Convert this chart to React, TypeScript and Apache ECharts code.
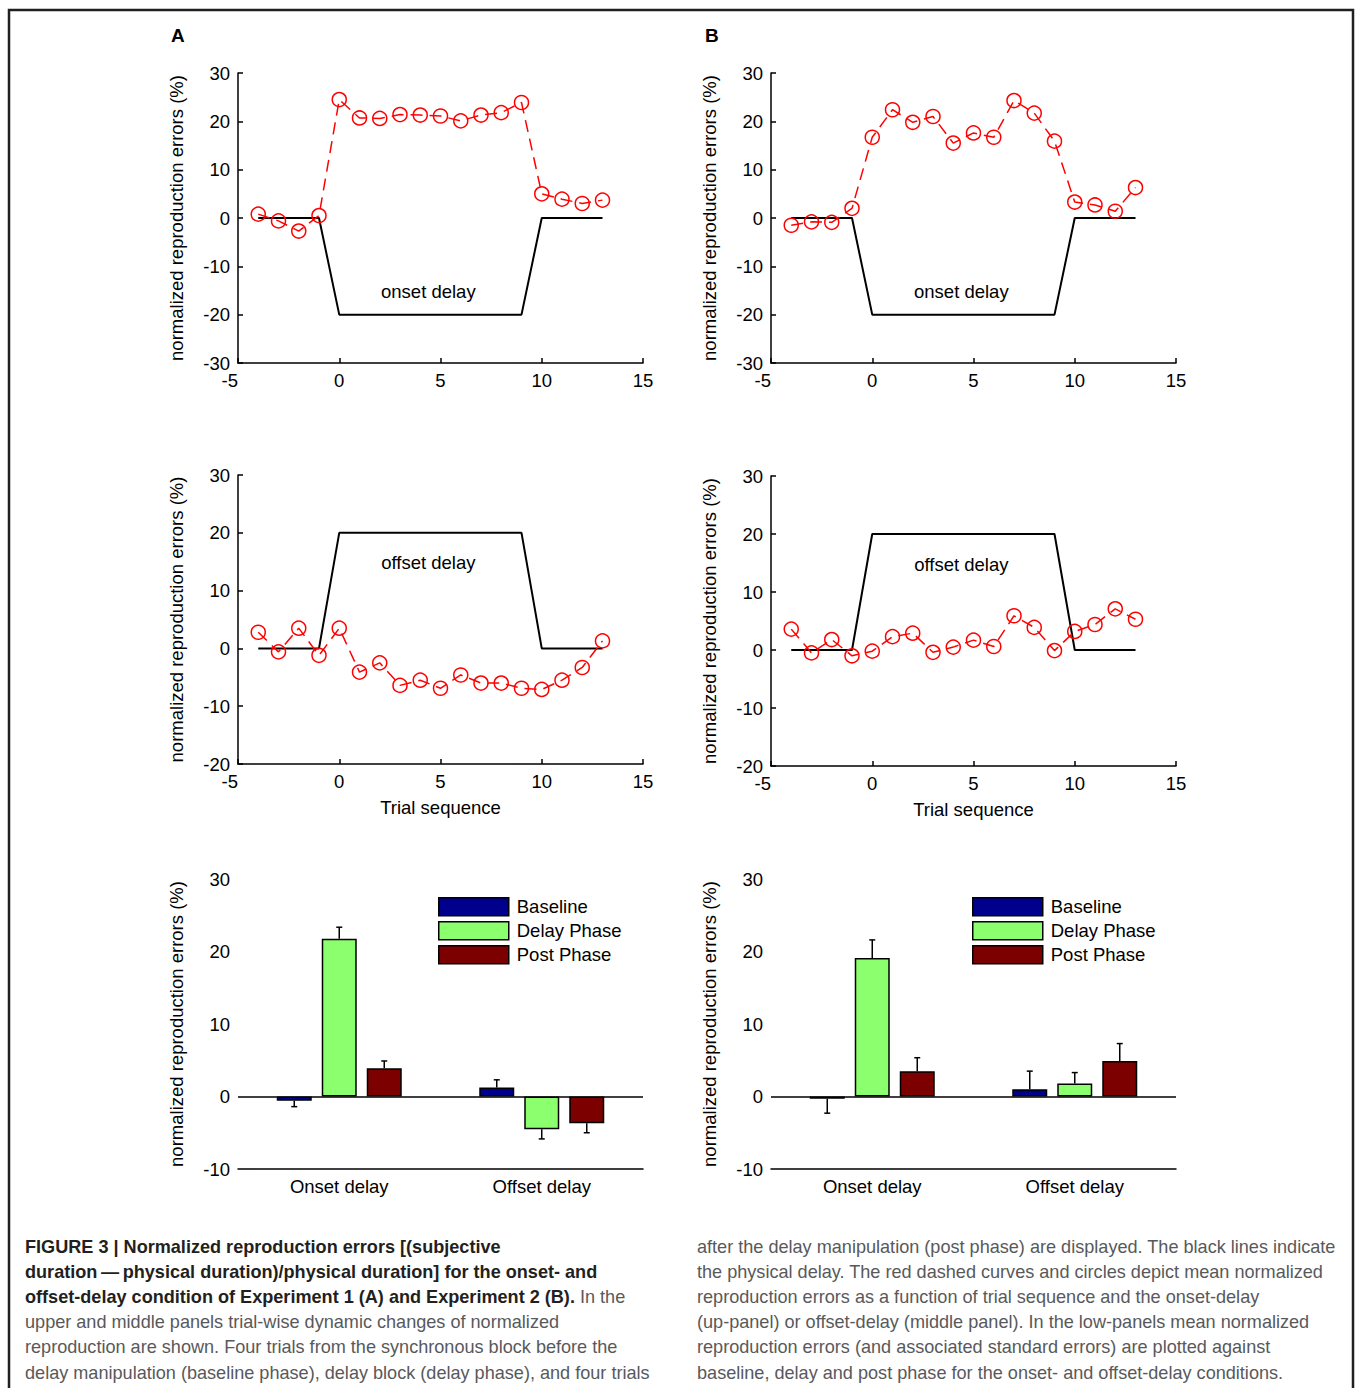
import React, { useEffect, useRef } from "react";
import * as echarts from "echarts";

// ---------- data ----------
const trials = [-4, -3, -2, -1, 0, 1, 2, 3, 4, 5, 6, 7, 8, 9, 10, 11, 12, 13];
const delayX = [-4, -1, 0, 9, 10, 13];
const onsetDelayY = [0, 0, -20, -20, 0, 0];
const offsetDelayY = [0, 0, 20, 20, 0, 0];

const exp1Onset = [0.8, -0.6, -2.7, 0.5, 24.5, 20.7, 20.6, 21.4, 21.3, 21.1, 20.1, 21.3, 21.8, 23.9, 5.0, 3.9, 3.0, 3.7];
const exp2Onset = [-1.5, -0.8, -0.9, 2.0, 16.7, 22.4, 19.8, 21.0, 15.5, 17.6, 16.7, 24.3, 21.7, 15.9, 3.3, 2.7, 1.4, 6.3];
const exp1Offset = [2.8, -0.6, 3.5, -1.2, 3.5, -4.1, -2.5, -6.4, -5.5, -6.9, -4.6, -6.0, -6.0, -6.9, -7.1, -5.5, -3.3, 1.3];
const exp2Offset = [3.6, -0.5, 1.8, -1.0, -0.2, 2.3, 2.9, -0.4, 0.5, 1.7, 0.6, 5.9, 3.9, -0.1, 3.2, 4.4, 7.1, 5.3];

const conditions = ["Onset delay", "Offset delay"];
const phases = ["Baseline", "Delay Phase", "Post Phase"];
const phaseColors = ["#00008c", "#8cff6e", "#7c0000"];

const exp1Baseline = [-0.6, 1.25];
const exp1Delay = [21.75, -4.5];
const exp1Post = [3.9, -3.7];
const exp1BaselineSE = [0.8, 1.05];
const exp1DelaySE = [1.6, 1.35];
const exp1PostSE = [1.0, 1.3];

const exp2Baseline = [-0.3, 1.0];
const exp2Delay = [19.1, 1.8];
const exp2Post = [3.5, 4.9];
const exp2BaselineSE = [2.0, 2.5];
const exp2DelaySE = [2.5, 1.5];
const exp2PostSE = [1.85, 2.4];

const xTicks = { min: -5, max: 15, interval: 5 };
const yTop = { min: -30, max: 30, interval: 10 };
const yMid = { min: -20, max: 30, interval: 10 };
const yBar = { min: -10, max: 30, interval: 10 };

const yName = "normalized reproduction errors (%)";
const xName = "Trial sequence";

const captionLeft = [
  "{b|FIGURE 3 | Normalized reproduction errors [(subjective}",
  "{b|duration\u2009\u2014\u2009physical duration)/physical duration] for the onset- and}",
  "{b|offset-delay condition of Experiment 1 (A) and Experiment 2 (B).}{n| In the}",
  "{n|upper and middle panels trial-wise dynamic changes of normalized}",
  "{n|reproduction are shown. Four trials from the synchronous block before the}",
  "{n|delay manipulation (baseline phase), delay block (delay phase), and four trials}",
];
const captionRight = [
  "after the delay manipulation (post phase) are displayed. The black lines indicate",
  "the physical delay. The red dashed curves and circles depict mean normalized",
  "reproduction errors as a function of trial sequence and the onset-delay",
  "(up-panel) or offset-delay (middle panel). In the low-panels mean normalized",
  "reproduction errors (and associated standard errors) are plotted against",
  "baseline, delay and post phase for the onset- and offset-delay conditions.",
];

// ---------- styling ----------
const FONT = '"Liberation Sans", Arial, Helvetica, sans-serif';
const FS = 18.5;
const BAR_W = 35;
const BAR_STEP = 45;

const axisCommon = {
  axisLine: { onZero: false, lineStyle: { color: "#000", width: 1.5 } },
  axisTick: { inside: true, length: 5, lineStyle: { color: "#000", width: 1.5 } },
  axisLabel: { color: "#000", fontSize: FS, fontFamily: FONT, margin: 8 },
  splitLine: { show: false },
};

function makeOption() {
  const grid = [
    { left: 238, top: 73, width: 405, height: 290 },
    { left: 771, top: 73, width: 405, height: 290 },
    { left: 238, top: 475, width: 405, height: 289 },
    { left: 771, top: 476, width: 405, height: 290 },
    { left: 238, top: 879, width: 405, height: 290 },
    { left: 771, top: 879, width: 405, height: 290 },
  ];

  const xAxis: any[] = [];
  const yAxis: any[] = [];
  for (let i = 0; i < 4; i++) {
    xAxis.push({
      type: "value",
      gridIndex: i,
      ...xTicks,
      ...axisCommon,
      axisLabel: { ...axisCommon.axisLabel, alignMinLabel: "right" },
      name: i >= 2 ? xName : "",
      nameLocation: "middle",
      nameGap: 34,
      nameTextStyle: { color: "#000", fontSize: FS, fontFamily: FONT },
    });
    const yr = i < 2 ? yTop : yMid;
    yAxis.push({
      type: "value",
      gridIndex: i,
      ...yr,
      ...axisCommon,
      name: yName,
      nameLocation: "middle",
      nameGap: 52,
      nameTextStyle: { color: "#000", fontSize: FS, fontFamily: FONT },
    });
  }
  for (let i = 4; i < 6; i++) {
    xAxis.push({
      type: "category",
      gridIndex: i,
      data: conditions,
      ...axisCommon,
      axisTick: { show: false },
    });
    yAxis.push({
      type: "value",
      gridIndex: i,
      ...yBar,
      ...axisCommon,
      name: yName,
      nameLocation: "middle",
      nameGap: 52,
      nameTextStyle: { color: "#000", fontSize: FS, fontFamily: FONT },
    });
  }

  const series: any[] = [];

  const delayLine = (idx: number, ys: number[], label: string, coord: number[]) => ({
    type: "line",
    xAxisIndex: idx,
    yAxisIndex: idx,
    data: delayX.map((x, k) => [x, ys[k]]),
    symbol: "none",
    silent: true,
    lineStyle: { color: "#000", width: 2 },
    z: 2,
    markPoint: {
      silent: true,
      symbol: "circle",
      symbolSize: 1,
      itemStyle: { color: "rgba(0,0,0,0)" },
      label: {
        show: true,
        position: "inside",
        formatter: label,
        color: "#000",
        fontSize: FS,
        fontFamily: FONT,
      },
      data: [{ coord }],
    },
  });

  const redLine = (idx: number, ys: number[]) => ({
    type: "line",
    xAxisIndex: idx,
    yAxisIndex: idx,
    data: trials.map((t, k) => [t, ys[k]]),
    symbol: "circle",
    symbolSize: 14,
    silent: true,
    itemStyle: { color: "rgba(255,255,255,0)", borderColor: "#ff0000", borderWidth: 1.5 },
    lineStyle: { color: "#ff0000", width: 1.5, type: [12, 7] },
    z: 3,
  });

  series.push(delayLine(0, onsetDelayY, "onset delay", [4.4, -15.2]));
  series.push(redLine(0, exp1Onset));
  series.push(delayLine(1, onsetDelayY, "onset delay", [4.4, -15.2]));
  series.push(redLine(1, exp2Onset));
  series.push(delayLine(2, offsetDelayY, "offset delay", [4.4, 14.8]));
  series.push(redLine(2, exp1Offset));
  series.push(delayLine(3, offsetDelayY, "offset delay", [4.4, 14.8]));
  series.push(redLine(3, exp2Offset));

  const barPanels = [
    { idx: 4, means: [exp1Baseline, exp1Delay, exp1Post], se: [exp1BaselineSE, exp1DelaySE, exp1PostSE] },
    { idx: 5, means: [exp2Baseline, exp2Delay, exp2Post], se: [exp2BaselineSE, exp2DelaySE, exp2PostSE] },
  ];
  barPanels.forEach((p) => {
    phases.forEach((ph, k) => {
      const s: any = {
        type: "bar",
        name: ph,
        xAxisIndex: p.idx,
        yAxisIndex: p.idx,
        data: p.means[k],
        barWidth: BAR_W,
        barGap: ((BAR_STEP - BAR_W) / BAR_W) * 100 + "%",
        silent: true,
        itemStyle: { color: phaseColors[k], borderColor: "#000", borderWidth: 1.5 },
        z: 2,
      };
      if (k === 0) {
        s.markLine = {
          silent: true,
          symbol: "none",
          label: { show: false },
          lineStyle: { color: "#000", width: 1.5, type: "solid" },
          data: [{ yAxis: 0 }],
          z: 4,
        };
      }
      series.push(s);
    });
    phases.forEach((ph, k) => {
      const offset = (k - 1) * BAR_STEP;
      series.push({
        type: "custom",
        xAxisIndex: p.idx,
        yAxisIndex: p.idx,
        silent: true,
        z: 5,
        data: p.means[k].map((v, ci) => [ci, v, p.se[k][ci]]),
        renderItem: (params: any, api: any) => {
          const ci = api.value(0);
          const v = api.value(1);
          const e = api.value(2);
          const end = v >= 0 ? v + e : v - e;
          const p0 = api.coord([ci, v]);
          const p1 = api.coord([ci, end]);
          const x = p0[0] + offset;
          return {
            type: "group",
            children: [
              { type: "line", shape: { x1: x, y1: p0[1], x2: x, y2: p1[1] }, style: { stroke: "#000", lineWidth: 1.5 } },
              { type: "line", shape: { x1: x - 3, y1: p1[1], x2: x + 3, y2: p1[1] }, style: { stroke: "#000", lineWidth: 1.5 } },
            ],
          };
        },
      });
    });
  });

  const legendCommon = {
    orient: "vertical",
    padding: 0,
    itemWidth: 70,
    itemHeight: 18,
    itemGap: 4.5,
    icon: "rect",
    selectedMode: false,
    data: phases,
    itemStyle: { borderColor: "#000", borderWidth: 1.5 },
    textStyle: { color: "#000", fontSize: FS, fontFamily: FONT, lineHeight: 18, padding: [0, 0, 0, 3] },
  };

  const graphic: any[] = [
    {
      type: "rect",
      shape: { x: 9, y: 10, width: 1344, height: 1400 },
      style: { fill: "none", stroke: "#231f20", lineWidth: 2.5 },
      silent: true,
    },
    { type: "text", x: 171, y: 35, style: { text: "A", fontSize: 19, fontWeight: "bold", fontFamily: FONT, fill: "#000", verticalAlign: "middle" } },
    { type: "text", x: 705, y: 35, style: { text: "B", fontSize: 19, fontWeight: "bold", fontFamily: FONT, fill: "#000", verticalAlign: "middle" } },
  ];
  const capFS = 18.1;
  const rich = {
    b: { fontWeight: "bold", fill: "#231f20", fontSize: capFS, fontFamily: FONT },
    n: { fontWeight: "normal", fill: "#58595b", fontSize: capFS, fontFamily: FONT },
  };
  captionLeft.forEach((line, i) => {
    graphic.push({
      type: "text",
      x: 25,
      y: 1247 + i * 25.1,
      style: { text: line, rich, fontSize: capFS, fontFamily: FONT, fill: "#58595b", verticalAlign: "middle" },
    });
  });
  captionRight.forEach((line, i) => {
    graphic.push({
      type: "text",
      x: 697,
      y: 1247 + i * 25.1,
      style: { text: line, fontSize: capFS, fontFamily: FONT, fill: "#58595b", verticalAlign: "middle" },
    });
  });

  return {
    animation: false,
    backgroundColor: "#fff",
    textStyle: { fontFamily: FONT },
    grid,
    xAxis,
    yAxis,
    series,
    legend: [
      { ...legendCommon, left: 438, top: 897 },
      { ...legendCommon, left: 972, top: 897 },
    ],
    graphic,
  };
}

export default function App() {
  const ref = useRef<HTMLDivElement>(null);
  useEffect(() => {
    if (!ref.current) return;
    const chart = echarts.init(ref.current, null, { renderer: "svg" });
    chart.setOption(makeOption() as any);
    return () => chart.dispose();
  }, []);
  return (
    <div
      ref={ref}
      style={{ position: "absolute", left: 0, top: 0, width: 1357, height: 1388, background: "#fff" }}
    />
  );
}
